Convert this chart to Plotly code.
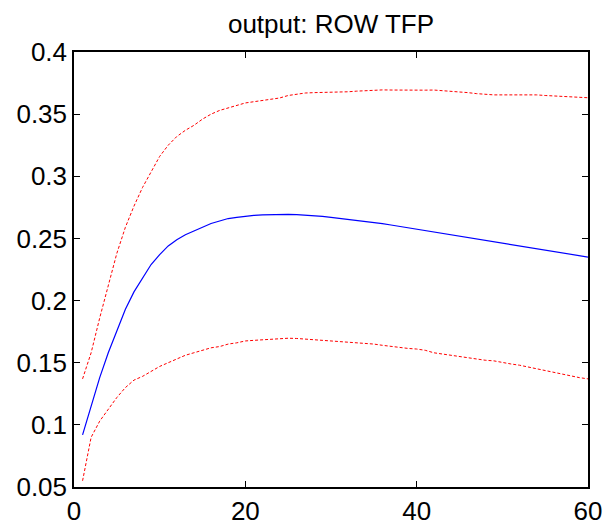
import plotly.graph_objects as go

periods = list(range(1, 61))

median = [0.092, 0.115, 0.138, 0.158, 0.175, 0.193, 0.207, 0.218, 0.229, 0.237,
          0.244, 0.249, 0.253, 0.256, 0.259, 0.262, 0.264, 0.266, 0.267, 0.268,
          0.2685, 0.269, 0.2693, 0.2694, 0.2694, 0.2692, 0.2688, 0.2683, 0.2677, 0.267,
          0.2662, 0.2654, 0.2646, 0.2637, 0.2628, 0.2619, 0.2608, 0.2597, 0.2586, 0.2575,
          0.2564, 0.2553, 0.2541, 0.253, 0.2519, 0.2508, 0.2497, 0.2485, 0.2474, 0.2463,
          0.2452, 0.2441, 0.243, 0.2418, 0.2407, 0.2396, 0.2385, 0.2373, 0.2362, 0.235]

upper = [0.137, 0.158, 0.186, 0.213, 0.238, 0.259, 0.276, 0.291, 0.304, 0.316,
         0.325, 0.332, 0.337, 0.341, 0.346, 0.350, 0.353, 0.355, 0.357, 0.359,
         0.360, 0.361, 0.362, 0.363, 0.365, 0.366, 0.367, 0.3673, 0.3674, 0.3675,
         0.3678, 0.368, 0.3685, 0.369, 0.3694, 0.3695, 0.3694, 0.3693, 0.3692, 0.369,
         0.3693, 0.3694, 0.369, 0.3685, 0.3678, 0.3673, 0.3665, 0.3658, 0.3655, 0.3655,
         0.3656, 0.3656, 0.3656, 0.3655, 0.365, 0.3647, 0.3644, 0.364, 0.3636, 0.3632]

lower = [0.055, 0.090, 0.103, 0.113, 0.122, 0.130, 0.136, 0.139, 0.143, 0.147,
         0.150, 0.153, 0.156, 0.158, 0.160, 0.162, 0.163, 0.165, 0.166, 0.1675,
         0.168, 0.1685, 0.169, 0.1695, 0.1697, 0.1695, 0.169, 0.1685, 0.168, 0.1675,
         0.167, 0.1668, 0.1665, 0.166, 0.165, 0.164, 0.163, 0.162, 0.1615, 0.161,
         0.160, 0.158, 0.157, 0.156, 0.155, 0.1535, 0.1525, 0.152, 0.1515, 0.150,
         0.149, 0.148, 0.1465, 0.145, 0.1435, 0.142, 0.1405, 0.139, 0.138, 0.137]

x_ticks = [0, 20, 40, 60]
y_ticks = [0.05, 0.1, 0.15, 0.2, 0.25, 0.3, 0.35, 0.4]
y_tick_labels = ["0.05", "0.1", "0.15", "0.2", "0.25", "0.3", "0.35", "0.4"]

FONT = "Liberation Sans, Arial, sans-serif"

fig = go.Figure()
fig.add_trace(go.Scatter(x=periods, y=upper, mode="lines",
                         line=dict(color="#ff0000", width=1, dash="3px,2px")))
fig.add_trace(go.Scatter(x=periods, y=lower, mode="lines",
                         line=dict(color="#ff0000", width=1, dash="3px,2px")))
fig.add_trace(go.Scatter(x=periods, y=median, mode="lines",
                         line=dict(color="#0000ff", width=1.2)))

axis_common = dict(showgrid=False, zeroline=False, showline=True, linecolor="black",
                   linewidth=1.5, mirror="allticks", ticks="inside", ticklen=6,
                   tickcolor="black", tickwidth=1, automargin=False,
                   tickfont=dict(family=FONT, size=26, color="black"))

W, H = 616, 525
fig.update_layout(
    width=W, height=H,
    margin=dict(l=74, r=28, t=52, b=38),
    paper_bgcolor="white", plot_bgcolor="white",
    showlegend=False,
    title=dict(text="output: ROW TFP", x=(74 + 588) / 2 / W, xanchor="center",
               y=1 - 24 / H, yanchor="middle",
               font=dict(family=FONT, size=26, color="black")),
    xaxis=dict(range=[0, 60], tickvals=x_ticks, **axis_common),
    yaxis=dict(range=[0.05, 0.4], tickvals=y_ticks, ticktext=y_tick_labels, **axis_common),
)

fig.write_html(
    "out.html",
    config={"displayModeBar": False},
    post_script="document.body.style.margin='0';document.body.style.overflow='hidden';",
)
